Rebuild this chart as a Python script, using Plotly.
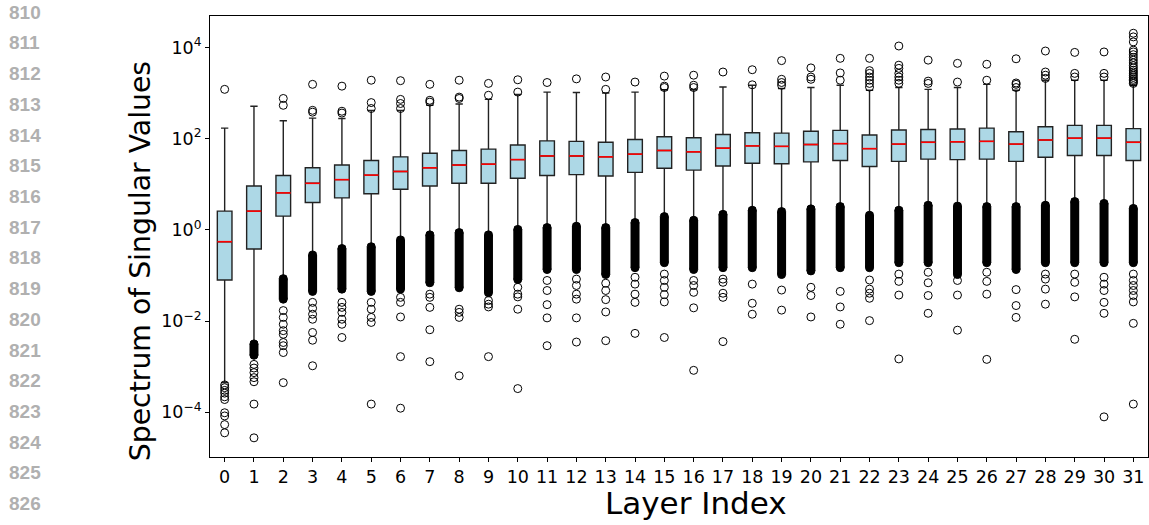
import plotly.graph_objects as go

# ---------------- data (log10 of singular values) ----------------
layers = list(range(32))

q1_log10 = [-1.10, -0.42, 0.30, 0.60, 0.70, 0.79, 0.89, 0.96, 1.02, 1.02, 1.13, 1.19, 1.21, 1.18, 1.26, 1.35,
            1.31, 1.40, 1.46, 1.45, 1.49, 1.52, 1.39, 1.50, 1.55, 1.54, 1.55, 1.50, 1.59, 1.63, 1.63, 1.52]
median_log10 = [-0.26, 0.41, 0.81, 1.02, 1.10, 1.20, 1.28, 1.36, 1.42, 1.44, 1.54, 1.62, 1.62, 1.60, 1.66, 1.74,
                1.71, 1.79, 1.84, 1.83, 1.87, 1.89, 1.78, 1.88, 1.92, 1.93, 1.94, 1.88, 1.97, 2.01, 2.01, 1.92]
q3_log10 = [0.41, 0.96, 1.19, 1.36, 1.42, 1.52, 1.60, 1.68, 1.74, 1.77, 1.86, 1.95, 1.94, 1.92, 1.98, 2.04,
            2.02, 2.09, 2.13, 2.12, 2.16, 2.18, 2.08, 2.19, 2.20, 2.21, 2.23, 2.15, 2.26, 2.29, 2.29, 2.22]
whisker_low_log10 = [-3.35, -2.45, -1.02, -0.50, -0.36, -0.32, -0.17, -0.06, -0.01, -0.06, 0.06, 0.10, 0.13,
                     0.10, 0.21, 0.34, 0.26, 0.39, 0.48, 0.45, 0.51, 0.56, 0.37, 0.48, 0.59, 0.57, 0.56, 0.56,
                     0.59, 0.67, 0.63, 0.52]
whisker_high_log10 = [2.23, 2.71, 2.39, 2.45, 2.44, 2.62, 2.62, 2.73, 2.76, 2.86, 2.97, 3.02, 3.01, 3.00, 3.02,
                      3.07, 3.07, 3.13, 3.17, 3.10, 3.12, 3.17, 3.06, 3.12, 3.08, 3.12, 3.19, 3.06, 3.28, 3.28,
                      3.28, 3.17]

# dense runs of low outliers (centres of the first and last circle of each run)
dense_top_log10 = [None, -2.50, -1.07, -0.55, -0.41, -0.37, -0.22, -0.11, -0.06, -0.11, 0.01, 0.05, 0.08, 0.05,
                   0.16, 0.29, 0.21, 0.34, 0.43, 0.40, 0.46, 0.51, 0.32, 0.43, 0.54, 0.52, 0.51, 0.51, 0.54,
                   0.62, 0.58, 0.47]
dense_bottom_log10 = [None, -2.75, -1.52, -1.35, -1.30, -1.35, -1.30, -1.16, -1.27, -1.38, -1.09, -0.87, -0.87,
                      -0.98, -0.83, -0.72, -0.87, -0.83, -0.83, -0.98, -0.90, -0.83, -0.83, -0.72, -0.72, -0.98,
                      -0.72, -0.87, -0.72, -0.72, -0.72, -0.72]

low_outliers_log10 = [
    [-3.40, -3.46, -3.52, -3.58, -3.66, -3.72, -4.01, -4.08, -4.27, -4.45],
    [-2.95, -3.03, -3.13, -3.24, -3.33, -3.82, -4.56],
    [-1.77, -1.92, -2.07, -2.21, -2.29, -2.47, -2.54, -2.69, -3.35],
    [-1.59, -1.72, -1.85, -1.96, -2.25, -2.42, -2.98],
    [-1.59, -1.70, -1.81, -1.96, -2.07, -2.36],
    [-1.59, -1.74, -1.92, -2.03, -3.82],
    [-1.48, -1.59, -1.91, -2.78, -3.91],
    [-1.41, -1.48, -1.70, -2.19, -2.89],
    [-1.74, -1.81, -1.92, -3.20],
    [-1.55, -1.63, -1.69, -2.78],
    [-1.26, -1.41, -1.47, -1.74, -3.48],
    [-1.11, -1.33, -1.64, -1.93, -2.54],
    [-1.08, -1.22, -1.41, -1.52, -1.93, -2.46],
    [-1.17, -1.33, -1.53, -1.80, -2.43],
    [-1.04, -1.19, -1.41, -1.59, -2.27],
    [-0.97, -1.11, -1.26, -1.42, -1.58, -2.36],
    [-1.11, -1.22, -1.37, -1.71, -3.08],
    [-1.08, -1.15, -1.39, -1.48, -2.45],
    [-1.19, -1.61, -1.85],
    [-1.32, -1.76],
    [-1.26, -1.44, -1.91],
    [-1.35, -1.69, -2.07],
    [-1.10, -1.30, -1.39, -1.50, -1.99],
    [-0.97, -1.13, -1.43, -2.83],
    [-0.93, -1.16, -1.44, -1.83],
    [-1.11, -1.43, -2.20],
    [-0.93, -1.13, -1.41, -2.84],
    [-1.31, -1.66, -1.92],
    [-0.97, -1.08, -1.30, -1.63],
    [-0.97, -1.15, -1.47, -2.40],
    [-1.04, -1.19, -1.33, -1.59, -1.83, -4.10],
    [-0.97, -1.11, -1.22, -1.33, -1.44, -1.58, -2.05, -3.82],
]
high_outliers_log10 = [
    [3.08], [], [2.73, 2.88], [2.58, 2.62, 3.19], [2.56, 2.60, 3.15], [2.66, 2.79, 3.28],
    [2.66, 2.77, 2.86, 3.27], [2.80, 2.84, 3.19], [2.88, 2.91, 3.28], [2.95, 3.21], [3.02, 3.29],
    [3.23], [3.31], [3.08, 3.35], [3.24], [3.12, 3.15, 3.37], [3.12, 3.17, 3.39], [3.46],
    [3.18, 3.51], [3.17, 3.23, 3.30, 3.71], [3.30, 3.35, 3.55], [3.28, 3.44, 3.76],
    [3.13, 3.21, 3.28, 3.35, 3.43, 3.49, 3.76], [3.21, 3.28, 3.35, 3.43, 3.54, 3.61, 4.03],
    [3.21, 3.26, 3.72], [3.24, 3.65], [3.28, 3.63], [3.12, 3.19, 3.22, 3.75],
    [3.32, 3.39, 3.46, 3.92], [3.35, 3.43, 3.89], [3.35, 3.43, 3.90],
    [3.21, 3.24, 3.27, 3.30, 3.34, 3.38, 3.42, 3.46, 3.50, 3.55, 3.60, 3.66, 3.72, 3.78, 3.84, 3.90, 3.94,
     4.12, 4.23, 4.31],
]

tick_exponents = [-4, -2, 0, 2, 4]
line_numbers = list(range(810, 827))

# ---------------- figure ----------------
BOX_W = 0.5
p = lambda v: 10 ** v

fig = go.Figure()

fig.add_trace(go.Box(
    x=layers,
    q1=[p(v) for v in q1_log10],
    median=[p(v) for v in median_log10],
    q3=[p(v) for v in q3_log10],
    lowerfence=[p(v) for v in whisker_low_log10],
    upperfence=[p(v) for v in whisker_high_log10],
    width=BOX_W,
    whiskerwidth=0.5,
    boxpoints=False,
    fillcolor="#add8e6",
    line=dict(color="#222222", width=1.4),
    showlegend=False,
    hoverinfo="skip",
))

# red median lines
mx, my = [], []
for i, m in zip(layers, median_log10):
    mx += [i - BOX_W / 2, i + BOX_W / 2, None]
    my += [p(m), p(m), None]
fig.add_trace(go.Scatter(x=mx, y=my, mode="lines", line=dict(color="red", width=1.6),
                         showlegend=False, hoverinfo="skip"))

# dense runs of outliers drawn as black columns
bx, by, ex, ey = [], [], [], []
for i, t, b in zip(layers, dense_top_log10, dense_bottom_log10):
    if t is None:
        continue
    bx += [i, i, None]
    by += [p(t), p(b), None]
    ex += [i, i]
    ey += [p(t), p(b)]
fig.add_trace(go.Scatter(x=bx, y=by, mode="lines", line=dict(color="black", width=9),
                         showlegend=False, hoverinfo="skip"))
fig.add_trace(go.Scatter(x=ex, y=ey, mode="markers",
                         marker=dict(symbol="circle", size=8, color="black",
                                     line=dict(color="black", width=1)),
                         showlegend=False, hoverinfo="skip"))

# individual outliers
ox, oy = [], []
for i in layers:
    for v in low_outliers_log10[i] + high_outliers_log10[i]:
        ox.append(i)
        oy.append(p(v))
fig.add_trace(go.Scatter(x=ox, y=oy, mode="markers",
                         marker=dict(symbol="circle-open", size=8, color="black",
                                     line=dict(color="black", width=1)),
                         showlegend=False, hoverinfo="skip"))

FONT = "DejaVu Sans"
fig.update_xaxes(
    range=[-0.5, 31.5], tickmode="array", tickvals=layers, ticktext=[str(i) for i in layers],
    showline=True, linecolor="black", linewidth=1, mirror=True,
    ticks="outside", ticklen=4, tickcolor="black", showgrid=False, zeroline=False,
    tickfont=dict(family=FONT, size=17.5, color="black"),
)
fig.update_yaxes(
    type="log", range=[-4.98, 4.688],
    tickmode="array", tickvals=[p(e) for e in tick_exponents],
    ticktext=["10<sup>%s</sup>" % (str(e).replace("-", "−")) for e in tick_exponents],
    showline=True, linecolor="black", linewidth=1, mirror=True,
    ticks="outside", ticklen=4, tickcolor="black", showgrid=False, zeroline=False,
    tickfont=dict(family=FONT, size=17.5, color="black"),
)

annotations = [
    dict(text="Spectrum of Singular Values", xref="paper", yref="paper", x=-0.0746, y=0.444,
         textangle=-90, showarrow=False, font=dict(family=FONT, size=28.3, color="black"),
         xanchor="center", yanchor="middle"),
    dict(text="Layer Index", xref="paper", yref="paper", x=0.5185, y=-0.1043,
         showarrow=False, font=dict(family=FONT, size=31, color="black"),
         xanchor="center", yanchor="middle"),
]
for k, n in enumerate(line_numbers):
    ypx = 12.3 + 30.7 * k
    annotations.append(dict(text="<b>%d</b>" % n, xref="paper", yref="paper",
                            x=(24.5 - 210) / 938, y=(457 - ypx) / 441,
                            showarrow=False, xanchor="center", yanchor="middle",
                            font=dict(family="Liberation Sans", size=19, color="#b0b0b0")))

fig.update_layout(
    width=1149, height=525,
    margin=dict(l=210, r=1, t=16, b=68, pad=0),
    paper_bgcolor="white", plot_bgcolor="white",
    annotations=annotations,
    showlegend=False,
)

# remove the page's default body margin so the figure fills the window exactly
fig.write_html("out.html",
               config={"displayModeBar": False, "staticPlot": True},
               post_script="document.body.style.margin='0';document.body.style.overflow='hidden';")
